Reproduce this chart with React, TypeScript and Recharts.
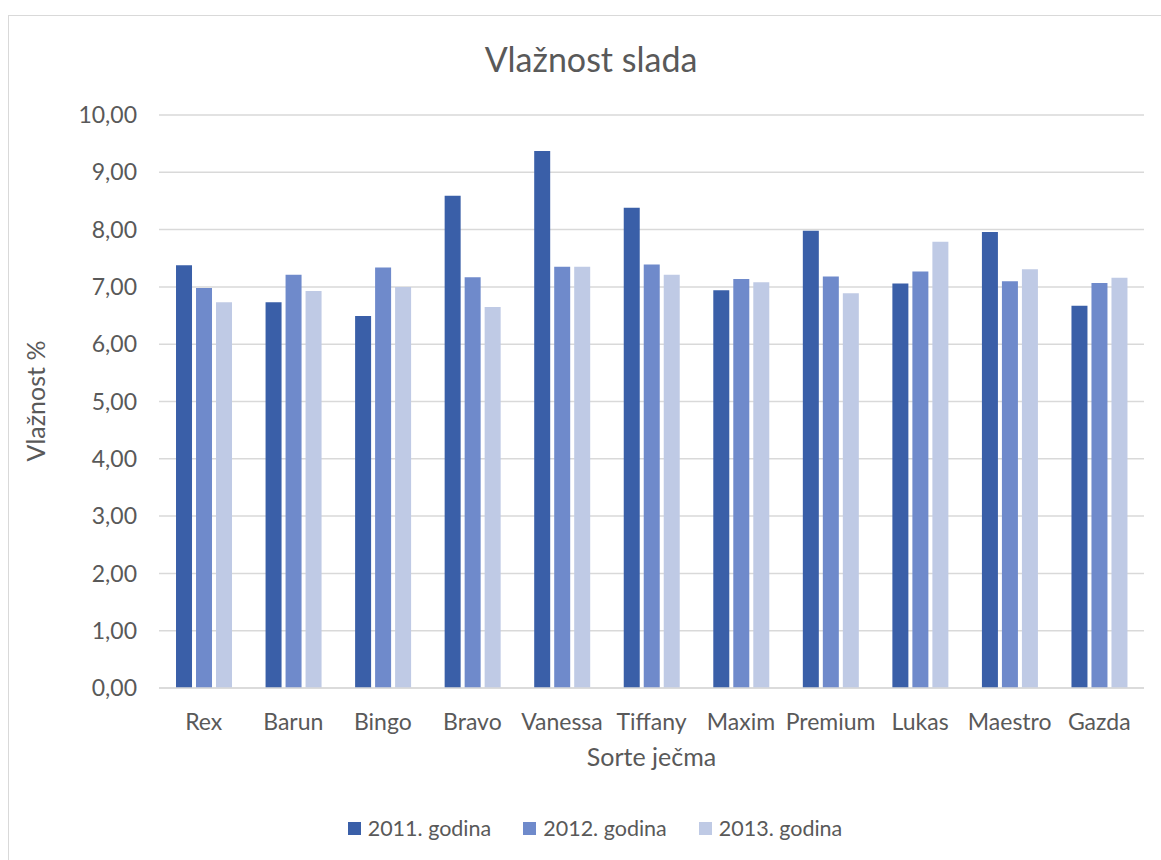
import React from 'react';
import { BarChart, Bar, XAxis, YAxis, CartesianGrid, Legend, Label } from 'recharts';

const categories = ['Rex', 'Barun', 'Bingo', 'Bravo', 'Vanessa', 'Tiffany', 'Maxim', 'Premium', 'Lukas', 'Maestro', 'Gazda'];
const y2011 = [7.38, 6.73, 6.49, 8.59, 9.37, 8.38, 6.94, 7.98, 7.06, 7.96, 6.67];
const y2012 = [6.98, 7.21, 7.34, 7.17, 7.35, 7.39, 7.14, 7.18, 7.27, 7.1, 7.07];
const y2013 = [6.73, 6.93, 7.0, 6.65, 7.35, 7.21, 7.08, 6.89, 7.79, 7.31, 7.16];
const seriesNames = ['2011. godina', '2012. godina', '2013. godina'];
const yTicks = [0, 1, 2, 3, 4, 5, 6, 7, 8, 9, 10];

const colors = ['#3A5FA8', '#6F8ACB', '#BFCAE5'];
const textColor = '#595959';
const font = 'Lato, "Open Sans", sans-serif';

const data = categories.map((name, i) => ({
  name,
  a: y2011[i],
  b: y2012[i],
  c: y2013[i],
}));

const fmt = (v: number) => v.toFixed(2).replace('.', ',');

function LegendContent({ payload }: any) {
  return (
    <div style={{ display: 'flex', justifyContent: 'center', fontFamily: font, fontSize: 21.5, color: textColor }}>
      {(payload || []).map((p: any, i: number) => (
        <div key={i} style={{ display: 'flex', alignItems: 'center', marginRight: i < 2 ? 32 : 0 }}>
          <span style={{ width: 13, height: 13, background: p.color, display: 'inline-block', marginRight: 7 }} />
          <span>{p.value}</span>
        </div>
      ))}
    </div>
  );
}

export default function App() {
  return (
    <div style={{ position: 'absolute', left: 0, top: 0, width: 1161, height: 860, overflow: 'hidden', background: '#fff' }}>
      <div style={{ position: 'absolute', left: 8, top: 15, width: 1200, height: 900, border: '1.5px solid #D9D9D9' }} />
      <div
        style={{
          position: 'absolute',
          left: 0,
          width: 1182,
          top: 38,
          textAlign: 'center',
          fontFamily: font,
          fontSize: 34,
          color: textColor,
        }}
      >
        Vlažnost slada
      </div>
      <div style={{ position: 'absolute', left: 0, top: 0 }}>
        <BarChart
          width={1161}
          height={860}
          data={data}
          margin={{ top: 115, right: 17, left: 0, bottom: 112 }}
          barCategoryGap="19%"
          barGap={4}
        >
          <CartesianGrid vertical={false} stroke="#D9D9D9" strokeWidth={1.5} />
          <XAxis
            dataKey="name"
            height={60}
            tickLine={false}
            tickSize={0}
            tickMargin={26}
            axisLine={{ stroke: '#D9D9D9', strokeWidth: 1.5 }}
            tick={{ fill: textColor, fontSize: 23, fontFamily: font }}
            interval={0}
          >
            <Label
              value="Sorte ječma"
              position="bottom"
              offset={0}
              style={{ fill: textColor, fontSize: 25, fontFamily: font }}
            />
          </XAxis>
          <YAxis
            width={159}
            domain={[0, 10]}
            ticks={yTicks}
            tickFormatter={fmt}
            axisLine={false}
            tickLine={false}
            tickSize={0}
            tickMargin={22}
            tick={{ fill: textColor, fontSize: 23, fontFamily: font }}
          >
            <Label
              content={() => (
                <text
                  x={35}
                  y={401}
                  transform="rotate(-90 35 401)"
                  textAnchor="middle"
                  dominantBaseline="central"
                  fill={textColor}
                  fontSize={25}
                  fontFamily={font}
                >
                  Vlažnost %
                </text>
              )}
            />
          </YAxis>
          <Legend
            verticalAlign="middle"
            layout="horizontal"
            align="center"
            content={<LegendContent />}
            wrapperStyle={{ top: 815, left: 0, width: 1190 }}
          />
          <Bar dataKey="a" name={seriesNames[0]} fill={colors[0]} isAnimationActive={false} />
          <Bar dataKey="b" name={seriesNames[1]} fill={colors[1]} isAnimationActive={false} />
          <Bar dataKey="c" name={seriesNames[2]} fill={colors[2]} isAnimationActive={false} />
        </BarChart>
      </div>
    </div>
  );
}
